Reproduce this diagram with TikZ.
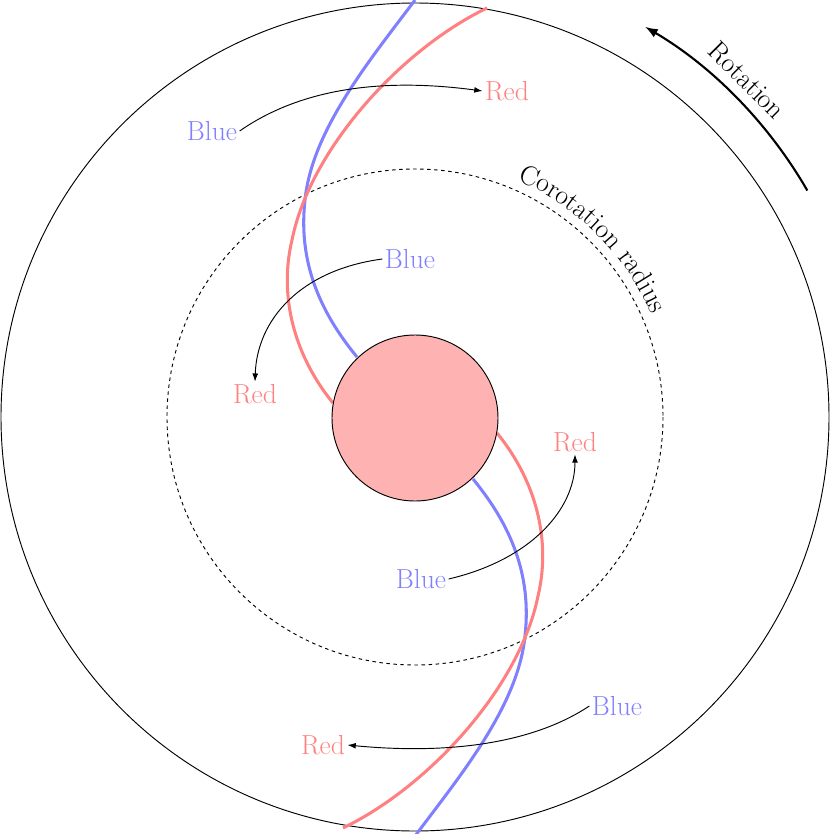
\documentclass[tikz,border=0pt]{standalone}
\usetikzlibrary{decorations.text,arrows.meta}
\begin{document}
\begin{tikzpicture}[x=0.03cm,y=-0.03cm,
  lbl/.style={font=\fontsize{23.5}{28}\selectfont, inner sep=2pt},
  bl/.style={lbl, text=blue!50},
  rd/.style={lbl, text=red!50},
  arr/.style={-{Latex[length=7pt,width=5pt]}, line width=0.8pt},
  arm/.style={line width=2.6pt}]
\useasboundingbox (0,0) rectangle (830,834);
\coordinate (c) at (415,417);
\draw[line width=0.8pt] (c) circle[radius=414];
\draw[dashed, line width=0.8pt] (c) circle[radius=248];
% arms
\draw[arm, blue!50] (357,357) .. controls (320,312) and (298,262) .. (305,200) .. controls (312,130) and (370,60) .. (415,0);
\draw[arm, red!50] (333,403) .. controls (290,350) and (280,290) .. (292,240) .. controls (310,150) and (400,50) .. (487,8);
\draw[arm, blue!50] (473,479) .. controls (510,524) and (532,574) .. (525,636) .. controls (518,706) and (460,776) .. (415,836);
\draw[arm, red!50] (497,433) .. controls (540,486) and (550,546) .. (538,596) .. controls (520,686) and (430,786) .. (343,828);
\node[circle, draw, line width=0.8pt, fill=red!30, minimum size=166*0.03cm] (core) at (415,418) {};
% labels
\node[bl] (b1) at (212,131) {Blue};
\node[rd] (r1) at (507,91) {Red};
\node[bl] (b2) at (410,259) {Blue};
\node[rd] (r2) at (255,394) {Red};
\node[bl] (b3) at (421,579) {Blue};
\node[rd] (r3) at (575,442) {Red};
\node[bl] (b4) at (617,706) {Blue};
\node[rd] (r4) at (323,745) {Red};
\draw[arr] (b1.east) .. controls (310,82) and (400,80) .. (r1.west);
\draw[arr] (b2.west) .. controls (300,270) and (257,320) .. (r2.north);
\draw[arr] (b3.east) .. controls (530,560) and (575,510) .. (r3.south);
\draw[arr] (b4.west) .. controls (520,752) and (420,752) .. (r4.east);
% rotation
\draw[-{Latex[length=11pt,width=8pt]}, line width=1.8pt] (c) ++(-30:453) arc[start angle=-30, end angle=-59.5, radius=453];
\node[lbl, rotate=-45] (rot) at (747,80) {Rotation};
\path[decorate, decoration={text along path, text align=center,
  text={|\fontsize{23.5}{28}\selectfont|Corotation radius}}]
  (c) ++(-80:258) arc[start angle=-80, end angle=-10, radius=258];
\end{tikzpicture}
\end{document}
